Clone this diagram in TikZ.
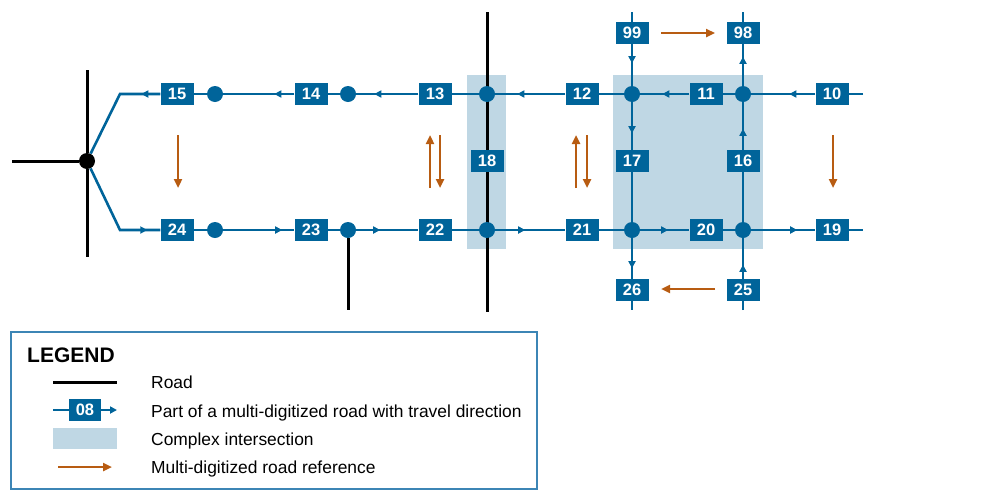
\documentclass[tikz,border=0pt]{standalone}
\usepackage{fontspec}
\setmainfont{Liberation Sans}
\usetikzlibrary{shapes,arrows.meta,decorations.markings}
\definecolor{rdblue}{HTML}{00649A}
\definecolor{cxblue}{HTML}{BFD7E4}
\definecolor{refor}{HTML}{B85C12}
\definecolor{lgblue}{HTML}{3C85B5}
\tikzstyle{sec}=[rectangle,fill=rdblue,text=white,minimum width=33pt,minimum height=22pt,inner sep=0pt,font=\fontsize{16.5}{18}\selectfont\bfseries]
\tikzstyle{jn}=[circle,fill=rdblue,minimum size=16pt,inner sep=0pt]
\tikzstyle{ln}=[draw=rdblue,color=rdblue,line width=2.6pt]
\tikzstyle{road}=[draw=black,line width=3pt]
\tikzstyle{ref}=[draw=refor,line width=2.5pt,-{Triangle[length=9pt,width=8pt]}]
\tikzstyle{lg}=[anchor=base west,inner sep=0pt,font=\fontsize{17.4}{20}\selectfont]
\tikzset{ar/.style={postaction={decorate},decoration={markings,mark=at position #1 with {\arrow[rdblue]{Triangle[length=7pt,width=7pt]}}}}}

\begin{document}
\begin{tikzpicture}[x=1pt,y=-1pt]
\useasboundingbox (0,0) rectangle (1000,501);
% complex intersections
\fill[cxblue] (467,75) rectangle (506,249);
\fill[cxblue] (613,75) rectangle (763,249);
% roads
\coordinate (r1) at (487,12);
\coordinate (r2) at (487,312);
\draw[road] (r1) -- (r2);
\node[circle,fill=black,minimum size=16pt,inner sep=0pt] (x0) at (87,161) {};
\coordinate (r3) at (87,70);
\coordinate (r4) at (87,257);
\coordinate (r5) at (12,161);
\coordinate (r6) at (348,310);
\draw[road] (r3) -- (x0) -- (r4);
\draw[road] (r5) -- (x0);

% top row
\node[sec] (s15) at (177,94) {15};
\node[jn] (j1) at (215,94) {};
\node[sec] (s14) at (311,94) {14};
\node[jn] (j2) at (348,94) {};
\node[sec] (s13) at (435,94) {13};
\node[jn] (j3) at (487,94) {};
\node[sec] (s12) at (582,94) {12};
\node[jn] (j4) at (632,94) {};
\node[sec] (s11) at (706,94) {11};
\node[jn] (j5) at (743,94) {};
\node[sec] (s10) at (832,94) {10};
\coordinate (e1) at (863,94);
\coordinate (c1) at (120,94);

% bottom row
\node[sec] (s24) at (177,230) {24};
\node[jn] (k1) at (215,230) {};
\node[sec] (s23) at (311,230) {23};
\node[jn] (k2) at (348,230) {};
\node[sec] (s22) at (435,230) {22};
\node[jn] (k3) at (487,230) {};
\node[sec] (s21) at (582,230) {21};
\node[jn] (k4) at (632,230) {};
\node[sec] (s20) at (706,230) {20};
\node[jn] (k5) at (743,230) {};
\node[sec] (s19) at (832,230) {19};
\coordinate (e2) at (863,230);
\coordinate (c2) at (120,230);

% cross sections
\node[sec] (s18) at (487,161) {18};
\node[sec] (s99) at (632,33) {99};
\node[sec] (s17) at (632,161) {17};
\node[sec] (s26) at (632,290) {26};
\node[sec] (s98) at (743,33) {98};
\node[sec] (s16) at (743,161) {16};
\node[sec] (s25) at (743,290) {25};
\coordinate (v1) at (632,12);
\coordinate (v2) at (743,12);
\coordinate (v3) at (632,310);
\coordinate (v4) at (743,310);

\draw[road] (k2) -- (r6);

\draw[ln] (e1) -- (s10);
\draw[ln,ar=26pt] (s10) -- (j5);
\draw[ln] (j5) -- (s11);
\draw[ln,ar=27pt] (s11) -- (j4);
\draw[ln] (j4) -- (s12);
\draw[ln,ar=48pt] (s12) -- (j3);
\draw[ln] (j3) -- (s13);
\draw[ln,ar=44pt] (s13) -- (j2);
\draw[ln] (j2) -- (s14);
\draw[ln,ar=20pt] (s14) -- (j1);
\draw[ln] (j1) -- (s15);
\draw[ln,ar=19pt] (s15) -- (c1) -- (x0);

\draw[ln,ar=-13pt] (x0) -- (c2) -- (s24);
\draw[ln] (s24) -- (k1);
\draw[ln,ar=59pt] (k1) -- (s23);
\draw[ln] (s23) -- (k2);
\draw[ln,ar=24pt] (k2) -- (s22);
\draw[ln] (s22) -- (k3);
\draw[ln,ar=30pt] (k3) -- (s21);
\draw[ln] (s21) -- (k4);
\draw[ln,ar=28pt] (k4) -- (s20);
\draw[ln] (s20) -- (k5);
\draw[ln,ar=46pt] (k5) -- (s19);
\draw[ln] (s19) -- (e2);

\draw[ln] (v1) -- (s99);
\draw[ln,ar=19pt] (s99) -- (j4);
\draw[ln,ar=31pt] (j4) -- (s17);
\draw[ln] (s17) -- (k4);
\draw[ln,ar=30pt] (k4) -- (s26);
\draw[ln] (s26) -- (v3);

\draw[ln] (v4) -- (s25);
\draw[ln,ar=14pt] (s25) -- (k5);
\draw[ln] (k5) -- (s16);
\draw[ln,ar=21pt] (s16) -- (j5);
\draw[ln,ar=29pt] (j5) -- (s98);
\draw[ln] (s98) -- (v2);

% multi-digitized references
\draw[ref] (178,135) -- (178,188);
\draw[ref] (430,188) -- (430,135);
\draw[ref] (440,135) -- (440,188);
\draw[ref] (576,188) -- (576,135);
\draw[ref] (587,135) -- (587,188);
\draw[ref] (833,135) -- (833,188);
\draw[ref] (661,33) -- (715,33);
\draw[ref] (715,289) -- (661,289);

% legend
\draw[draw=lgblue,line width=1.5pt] (11,332) rectangle (537,489);
\node[anchor=base west,inner sep=0pt,font=\fontsize{21}{24}\selectfont\bfseries] (lgd) at (27,362) {LEGEND};
\draw[road] (53,382) -- (117,382);
\node[sec,minimum width=32pt] (s08) at (85,410) {08};
\coordinate (l1) at (53,410);
\coordinate (l2) at (117,410);
\draw[ln] (l1) -- (s08);
\draw[ln,-{Triangle[length=7pt,width=7pt]}] (s08) -- (l2);
\fill[cxblue] (53,428) rectangle (117,449);
\draw[ref] (58,467) -- (112,467);
\node[lg] (t1) at (151,388) {Road};
\node[lg] (t2) at (151,417) {Part of a multi-digitized road with travel direction};
\node[lg] (t3) at (151,445) {Complex intersection};
\node[lg] (t4) at (151,473) {Multi-digitized road reference};
\end{tikzpicture}
\end{document}
